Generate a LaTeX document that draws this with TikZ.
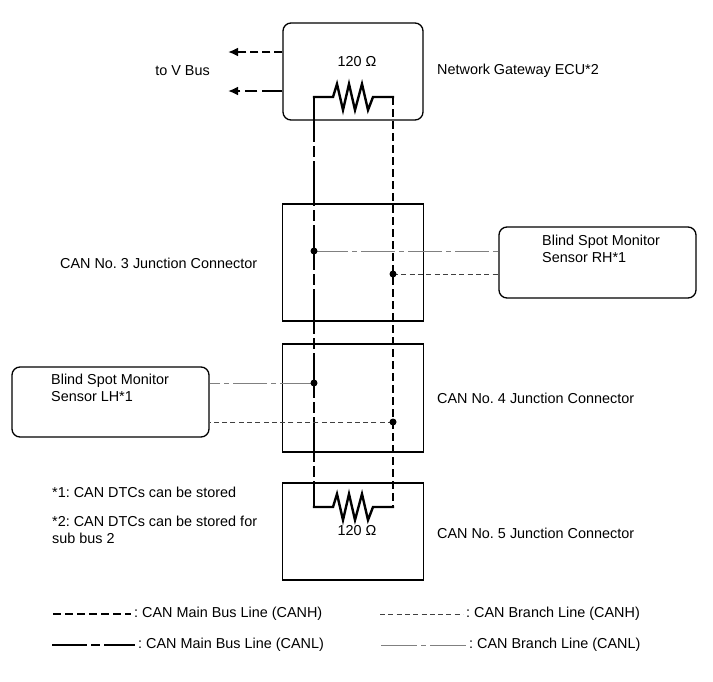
\documentclass[tikz,border=0pt]{standalone}
\usepackage{fontspec}
\setmainfont{Liberation Sans}
\usepackage{tikz}
\usetikzlibrary{arrows.meta}
\frenchspacing

\tikzset{
  box/.style={draw, line width=1.3pt, inner sep=0pt},
  rbox/.style={box, rounded corners=8pt},
  txt/.style={inner sep=0pt, align=left},
  canh/.style={line width=2.6pt, dash pattern=on 8pt off 4pt},
  canl/.style={line width=2.6pt, dash pattern=on 45pt off 4pt on 11pt off 4pt},
  brh/.style={line width=1pt, black!75, dash pattern=on 5pt off 3.3pt},
  brl/.style={line width=1pt, black!50, dash pattern=on 34pt off 4pt on 5pt off 4pt},
  res/.style={line width=2.4pt, line cap=rect, line join=miter},
  tip/.style={-{Latex[length=10pt,width=9pt]}}
}

\begin{document}
\begin{tikzpicture}[x=1pt, y=-1pt, font=\fontsize{14.4}{16.5}\selectfont]
\useasboundingbox (0,0) rectangle (713,681);


%Gateway
\node[rbox, minimum width=140pt, minimum height=97pt] (gw) at (353,71.5) {};
\node[txt] (gwres) at (357,62) {120 Ω};
\node[txt, anchor=west] (gwname) at (437,71) {Network Gateway ECU*2};
\node[txt, anchor=east] (vbus) at (210,71) {to V Bus};
\coordinate (vbh) at (228,52);
\coordinate (vbl) at (228,91);
\draw[canh, tip] (vbh -| gw.west) -- (vbh);
\draw[canl, dash pattern=on 20pt off 5pt on 12pt off 5pt, tip] (vbl -| gw.west) -- (vbl);

%Junction connectors
\node[box, minimum width=141pt, minimum height=117pt] (jc3) at (353,262.5) {};
\node[box, minimum width=141pt, minimum height=108pt] (jc4) at (353,398) {};
\node[box, minimum width=141pt, minimum height=97pt] (jc5) at (353,531.5) {};
\node[txt, anchor=west] (jc3name) at (60,263) {CAN No. 3 Junction Connector};
\node[txt, anchor=west] (jc4name) at (437,398) {CAN No. 4 Junction Connector};
\node[txt, anchor=west] (jc5name) at (437,533) {CAN No. 5 Junction Connector};
\node[txt] (jc5res) at (357,531) {120 Ω};

%Sensors
\node[rbox, minimum width=197pt, minimum height=71pt] (rh) at (597.5,262.5) {};
\node[txt, anchor=north west] (rhname) at (542,235) {Blind Spot Monitor\\Sensor RH*1};
\node[rbox, minimum width=197pt, minimum height=70pt] (lh) at (110.5,402) {};
\node[txt, anchor=north west] (lhname) at (51,374) {Blind Spot Monitor\\Sensor LH*1};

%Resistors
\coordinate (rgl) at (314,97);
\coordinate (rgh) at (393,97);
\coordinate (rbl) at (314,507);
\coordinate (rbh) at (393,507);
\draw[res] (rgl) -- ++(19,0) -- ++(4,-13) -- ++(6,26) -- ++(6,-26) -- ++(6,26) -- ++(7,-26) -- ++(6,26) -- ++(5,-13) -- (rgh);
\draw[res] (rbl) -- ++(19,0) -- ++(4,-13) -- ++(6,26) -- ++(6,-26) -- ++(6,26) -- ++(7,-26) -- ++(6,26) -- ++(5,-13) -- (rbh);

%Main bus
\draw[canl] (rgl) -- (rbl);
\draw[canh] (rgh) -- (rbh);

%Branches
\coordinate (j3l) at (314,251);
\coordinate (j3h) at (393,274);
\coordinate (j4l) at (314,383);
\coordinate (j4h) at (393,422);
\draw[brl] (j3l) -- (j3l -| rh.west);
\draw[brh] (j3h) -- (j3h -| rh.west);
\draw[brl] (j4l) -- (j4l -| lh.east);
\draw[brh] (j4h) -- (j4h -| lh.east);
\foreach \j in {j3l,j3h,j4l,j4h}
  \fill (\j) circle (3.5pt);

%Notes
\node[txt, anchor=north west] (note1) at (52,487) {*1: CAN DTCs can be stored};
\node[txt, anchor=north west] (note2) at (52,516) {*2: CAN DTCs can be stored for\\sub bus 2};

%Legend
\coordinate (lg1) at (53,614);
\coordinate (lg2) at (52,645);
\coordinate (lg3) at (380,614);
\coordinate (lg4) at (381,645);
\node[txt, anchor=west] (lg1txt) at (134,614) {: CAN Main Bus Line (CANH)};
\node[txt, anchor=west] (lg2txt) at (138,645) {: CAN Main Bus Line (CANL)};
\node[txt, anchor=west] (lg3txt) at (466,614) {: CAN Branch Line (CANH)};
\node[txt, anchor=west] (lg4txt) at (469,645) {: CAN Branch Line (CANL)};
\draw[canh, shorten >=3pt] (lg1) -- (lg1txt.west);
\draw[canl, dash pattern=on 35pt off 4pt on 9pt off 4pt, shorten >=3pt] (lg2) -- (lg2txt.west);
\draw[brh, shorten >=3pt] (lg3) -- (lg3txt.west);
\draw[brl, dash pattern=on 36pt off 4pt on 5pt off 4pt, shorten >=3pt] (lg4) -- (lg4txt.west);

\end{tikzpicture}
\end{document}
